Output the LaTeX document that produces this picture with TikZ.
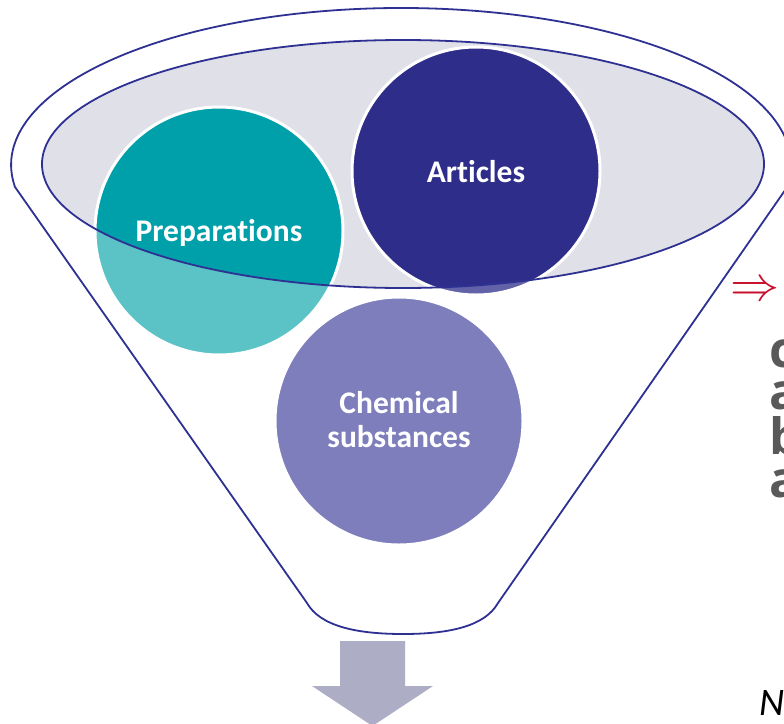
\documentclass[tikz,border=0pt]{standalone}
\usepackage{fontspec}
\setmainfont{Carlito}[Ligatures=NoCommon]
\newfontfamily\rfont{Open Sans}
\definecolor{navy}{RGB}{46,49,146}
\definecolor{artnavy}{RGB}{46,46,138}
\definecolor{tealc}{RGB}{0,160,170}
\definecolor{tealL}{RGB}{91,194,198}
\definecolor{chemL}{RGB}{126,126,188}
\definecolor{artL}{RGB}{98,98,168}
\definecolor{ellgrey}{RGB}{224,224,232}
\definecolor{arrgrey}{RGB}{173,173,198}
\definecolor{redarr}{RGB}{200,16,46}
\definecolor{txtgrey}{RGB}{89,89,89}
\tikzset{
  outline/.style={draw=navy, line width=1.8pt},
  ring/.style={draw=white, line width=3pt},
  lbl/.style={text=white, inner sep=0pt, font=\bfseries\fontsize{31.5}{34}\selectfont},
  cutletter/.style={text=txtgrey, inner sep=0pt, anchor=base west, font=\rfont\bfseries\fontsize{50}{44}\selectfont}
}
\begin{document}
\begin{tikzpicture}[x=1pt,y=-1pt]
\useasboundingbox (0,0) rectangle (784,723);
\clip (0,0) rectangle (784,723);
\fill[white] (0,0) rectangle (784,723);

% centres
\coordinate (cell) at (403,164);
\coordinate (cprep) at (219,231);
\coordinate (cart) at (476,171);
\coordinate (cchem) at (399,421);

% funnel outline
\coordinate (kl) at (15,187);
\coordinate (br) at (498,603);
\coordinate (bb) at (403,634);
\coordinate (bl) at (307,603);
\draw[outline, line join=round] (kl) arc[start angle=188.06, end angle=-8.06, x radius=390pt, y radius=157pt]
  -- (br) .. controls (485,626) and (450,634) .. (bb)
  .. controls (356,634) and (320,626) .. (bl) -- cycle;

% inner ellipse fill
\fill[ellgrey] (cell) ellipse [x radius=361pt, y radius=124pt];

% circles (light, outside part)
\fill[tealL] (cprep) circle[radius=123pt];
\fill[artL] (cart) circle[radius=123pt];
\fill[chemL] (cchem) circle[radius=123pt];
% solid parts inside the ellipse
\begin{scope}
  \clip (cell) ellipse [x radius=361pt, y radius=124pt];
  \fill[tealc] (cprep) circle[radius=123pt];
  \fill[artnavy] (cart) circle[radius=123pt];
\end{scope}
\draw[ring] (cprep) circle[radius=124pt];
\draw[ring] (cart) circle[radius=124pt];
\draw[ring] (cchem) circle[radius=124pt];

% inner ellipse outline
\draw[outline] (cell) ellipse [x radius=361pt, y radius=124pt];

% labels
\node[lbl, anchor=base] (prep) at (219,241) {Preparations};
\node[lbl, anchor=base] (art) at (476,182) {Articles};
\node[lbl, anchor=base] (chem1) at (399,413) {Chemical};
\node[lbl, anchor=base] (chem2) at (399,447) {substances};

% bottom arrow
\fill[arrgrey] (340,641) -- (405,641) -- (405,686) -- (433,686) -- (372.5,726)
  -- (312,686) -- (340,686) -- cycle;

% right side
\node[text=redarr, inner sep=0pt, anchor=base west, scale=4.9] (impl) at (730,300) {$\Rightarrow$};
\node[cutletter] (l1) at (769,367) {c};
\node[cutletter] (l2) at (769,409) {a};
\node[cutletter] (l3) at (769,454) {b};
\node[cutletter] (l4) at (769,497) {a};
\node[inner sep=0pt, anchor=base west, font=\itshape\fontsize{39}{39}\selectfont] (nn) at (759,715) {N};
\end{tikzpicture}
\end{document}
